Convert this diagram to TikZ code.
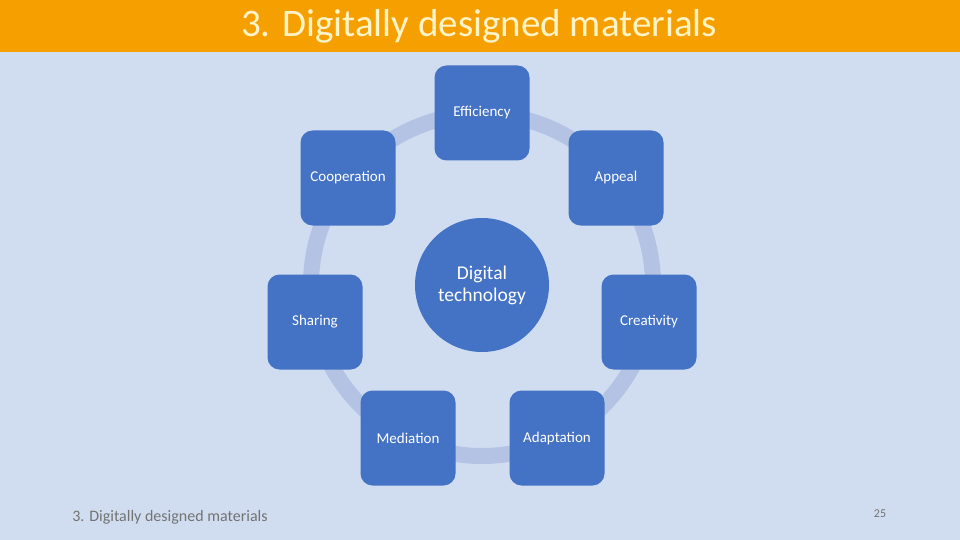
\documentclass[tikz,border=0pt]{standalone}
\usepackage{fontspec}
\setmainfont{Carlito}
\definecolor{bg}{HTML}{D0DDF0}
\definecolor{bar}{HTML}{F5A000}
\definecolor{ring}{HTML}{B4C3E4}
\definecolor{boxc}{HTML}{4472C4}
\definecolor{titc}{HTML}{FFF3C8}
\begin{document}
\begin{tikzpicture}[x=1pt,y=-1pt,
 item/.style={fill=boxc,rounded corners=12pt,minimum width=95pt,minimum height=95pt,font=\fontsize{15}{17}\selectfont,text=white,align=center}]
\fill[bg] (0,0) rectangle (960,540);
\useasboundingbox (0,0) rectangle (960,540);
\fill[bar] (0,0) rectangle (960,52);
\node[text=titc] (title) at (479,26) {\fontsize{39}{44}\selectfont 3. Digitally designed materials};
\draw[ring,line width=16pt] (482,285) circle (171);
\node[item] (eff) at (482,113) {Efficiency};
\node[item] (coop) at (348,178) {Cooperation};
\node[item] (app) at (616,178) {Appeal};
\node[item] (shar) at (315,322) {Sharing};
\node[item] (crea) at (649,322) {Creativity};
\node[item] (med) at (408,438) {Mediation};
\node[item] (adap) at (557,438) {Adaptation};
\node[circle,fill=boxc,minimum size=134pt,align=center,text=white,font=\fontsize{19.5}{22}\selectfont] (dig) at (482,285) {Digital\\technology};
\node[text=black!55,font=\fontsize{16}{18}\selectfont] (foot) at (170,517) {3. Digitally designed materials};
\node[text=black!55,font=\fontsize{12}{14}\selectfont] (pg) at (880,514) {25};
\end{tikzpicture}
\end{document}
